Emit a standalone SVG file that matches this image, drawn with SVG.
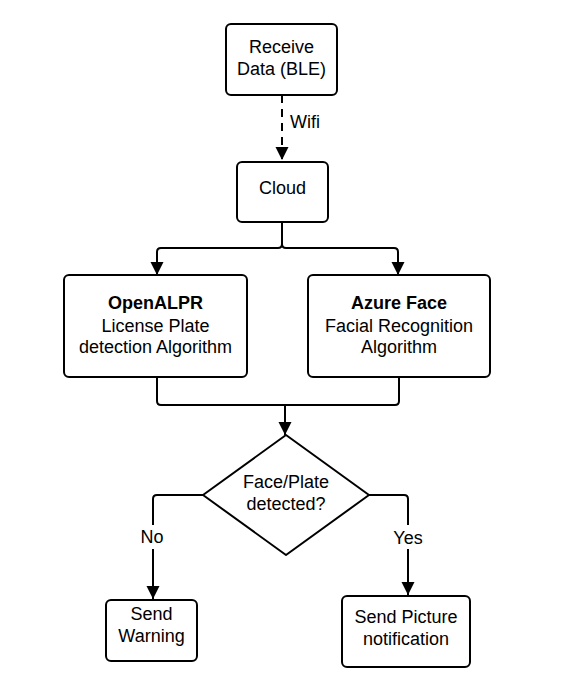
<svg xmlns="http://www.w3.org/2000/svg" width="561" height="697" viewBox="0 0 561 697">
<defs>
<marker id="ah" markerWidth="13" markerHeight="14" refX="13" refY="6.5" orient="auto" markerUnits="userSpaceOnUse" viewBox="0 0 13 13">
<path d="M0,0 L13,6.5 L0,13 Z" fill="#000"/>
</marker>
<style>
.box{fill:#fff;stroke:#000;stroke-width:2}
.ln{fill:none;stroke:#000;stroke-width:2}
text{font-family:"Liberation Sans",Arial,sans-serif;font-size:18px;fill:#000;text-anchor:middle}
.b{font-weight:bold}
</style>
</defs>
<rect width="561" height="697" fill="#fff"/>
<g id="connectors">
<path class="ln" d="M282,95 V160" stroke-dasharray="8,6" marker-end="url(#ah)"/>
<path class="ln" d="M282,222 V244 Q282,248 278,248 H161 Q157,248 157,252 V275" marker-end="url(#ah)"/>
<path class="ln" d="M282,222 V244 Q282,248 286,248 H394 Q398,248 398,252 V275" marker-end="url(#ah)"/>
<path class="ln" d="M157,377 V401 Q157,405 161,405 H395 Q399,405 399,401 V377"/>
<path class="ln" d="M285,405 V435" marker-end="url(#ah)"/>
<path class="ln" d="M203,495 H157 Q153,495 153,499 V599" marker-end="url(#ah)"/>
<path class="ln" d="M369,495 H404 Q408,495 408,499 V595" marker-end="url(#ah)"/>
<text x="290" y="128" style="text-anchor:start">Wifi</text>
<rect x="138" y="525" width="30" height="24" fill="#fff"/>
<text x="152" y="543">No</text>
<rect x="390" y="525" width="36" height="24" fill="#fff"/>
<text x="408" y="544">Yes</text>
</g>
<g id="receive">
<rect class="box" x="226" y="24" width="111" height="71" rx="5"/>
<text x="281.5" y="53">Receive</text>
<text x="281.5" y="75">Data (BLE)</text>
</g>
<g id="cloud">
<rect class="box" x="237" y="162" width="91" height="60" rx="5"/>
<text x="282.5" y="194">Cloud</text>
</g>
<g id="openalpr">
<rect class="box" x="64" y="275" width="183" height="102" rx="5"/>
<text class="b" x="155.5" y="309">OpenALPR</text>
<text x="155.5" y="332">License Plate</text>
<text x="155.5" y="353">detection Algorithm</text>
</g>
<g id="azure">
<rect class="box" x="308" y="275" width="182" height="102" rx="5"/>
<text class="b" x="399" y="309">Azure Face</text>
<text x="399" y="332">Facial Recognition</text>
<text x="399" y="353">Algorithm</text>
</g>
<g id="decision">
<path class="box" d="M286,435 L369,495 L286,555 L203,495 Z" stroke-linejoin="round"/>
<text x="286" y="488">Face/Plate</text>
<text x="286" y="510">detected?</text>
</g>
<g id="warning">
<rect class="box" x="106" y="600" width="91" height="61" rx="5"/>
<text x="151.5" y="620">Send</text>
<text x="151.5" y="642">Warning</text>
</g>
<g id="picture">
<rect class="box" x="342" y="596" width="128" height="71" rx="5"/>
<text x="406" y="623">Send Picture</text>
<text x="406" y="645">notification</text>
</g>
</svg>
